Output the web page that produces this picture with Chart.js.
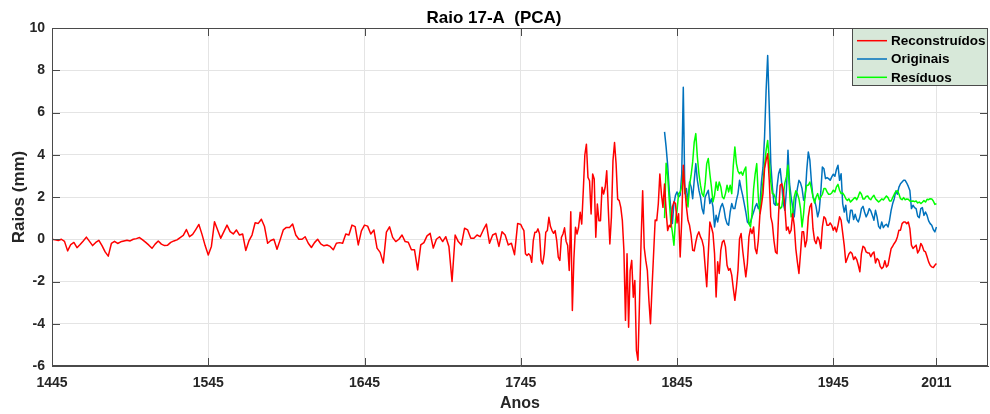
<!DOCTYPE html>
<html><head><meta charset="utf-8">
<script src="https://cdn.jsdelivr.net/npm/chart.js@4.4.0/dist/chart.umd.min.js"></script>
<style>html,body{margin:0;padding:0;background:#fff;}#wrap{width:990px;height:414px;}</style>
</head><body><div id="wrap"><canvas id="c" width="990" height="414"></canvas></div>
<script>
const titleText = 'Raio 17-A  (PCA)';
const xLabel = 'Anos';
const yLabel = 'Raios (mm)';
const seriesNames = ['Reconstruídos', 'Originais', 'Resíduos'];
const seriesColors = ['#ff0000', '#0072bd', '#00ff00'];
const xTicks = [1445, 1545, 1645, 1745, 1845, 1945, 2011];
const yTicks = [-6, -4, -2, 0, 2, 4, 6, 8, 10];

// Reconstruídos, 1445..1745 every 2 years
const redEarlyStart = 1445, redEarlyStep = 2;
const redEarly = [
 0.0,-0.03,-0.06,0.0,-0.1,-0.55,-0.25,-0.15,-0.4,-0.25,
 -0.08,0.1,-0.1,-0.3,-0.15,-0.05,-0.3,-0.6,-0.8,-0.2,
 -0.1,-0.2,-0.12,-0.08,-0.05,-0.08,0.0,0.03,0.08,-0.03,
 -0.15,-0.28,-0.43,-0.23,-0.08,-0.23,-0.3,-0.28,-0.15,-0.08,
 -0.03,0.08,0.18,0.46,0.12,0.23,0.46,0.7,0.23,-0.3,
 -0.75,
 -0.34,0.83,0.44,0.05,0.36,0.67,0.36,0.25,0.44,
 0.2,0.25,-0.53,-0.08,0.2,0.78,0.75,0.95,0.6,-0.19,
 -0.06,0.0,-0.47,-0.03,0.44,0.56,0.56,0.72,0.2,0.0,
 0.0,0.12,-0.19,-0.39,-0.16,0.0,-0.22,-0.31,-0.27,-0.34,
 -0.5,-0.19,-0.16,-0.19,0.25,0.2,0.67,0.6,-0.27,0.4,
 0.67,
 0.62,0.25,0.44,-0.42,-0.62,-1.12,0.34,0.59,0.09,
 -0.11,0.0,0.2,-0.11,-0.14,-0.5,-0.5,-1.45,-0.27,-0.16,
 0.16,0.28,-0.42,0.0,0.12,-0.11,0.12,-0.34,-2.0,0.2,
 -0.11,-0.27,0.52,0.44,0.05,0.05,0.2,0.12,0.44,0.72,
 -0.19,0.2,0.28,-0.34,0.36,0.2,-0.27,-0.19,-0.73,0.75,
 0.7
];
// Reconstruídos, 1746..2011 yearly
const redLateStart = 1746;
const redLate = [
 0.54,0.41,-0.69,-0.77,-0.69,-0.77,-1.09,-0.06,0.33,0.33,
 0.49,0.25,-1.0,-1.17,-0.69,0.33,0.41,1.04,0.6,0.41,
 0.28,0.41,-0.06,-0.85,-1.0,0.09,0.25,0.54,-0.09,-0.3,
 -1.48,1.3,-3.37,-0.9,0.57,0.25,0.57,1.28,0.72,2.3,
 4.0,4.5,2.93,2.77,1.2,3.09,2.85,0.1,1.67,0.88,
 0.88,2.46,2.14,2.46,3.24,1.43,-0.22,1.04,3.72,4.58,
 3.56,1.9,1.83,1.51,0.88,-0.54,-3.84,-0.69,-4.16,-1.48,
 -1.0,-2.74,-1.95,-5.26,-5.73,-2.9,-0.06,2.3,-0.4,-1.0,
 -1.48,-2.9,-4.0,-2.27,-0.69,0.91,0.88,1.67,3.09,2.14,
 1.51,2.61,1.35,0.41,0.66,0.58,1.53,1.77,1.69,0.77,
 1.21,-0.84,0.9,3.5,2.4,1.53,0.9,0.66,0.19,-0.52,
 -0.55,-0.13,0.19,0.35,0.11,-0.05,-0.36,-1.31,-2.25,-0.68,
 0.82,0.58,0.27,-0.68,-2.73,-1.07,-1.62,-0.52,-0.13,-0.05,
 -0.36,-1.23,-1.47,-1.39,-1.7,-2.33,-2.89,-2.26,-1.47,0.03,
 0.27,-0.52,-1.15,-1.78,-1.15,0.11,0.5,0.27,0.58,-0.44,
 -0.68,-0.05,1.14,1.61,2.16,3.34,3.74,4.05,2.79,1.06,
 0.74,-0.05,-0.6,-0.68,1.21,2.56,2.63,2.32,1.53,0.43,
 0.58,0.27,0.43,1.21,0.66,-0.44,-1.07,-1.62,-0.68,0.35,
 0.35,-0.36,-0.05,1.06,1.53,1.69,0.5,-0.05,-0.21,0.11,
 -0.05,-0.44,0.58,1.06,0.98,0.66,0.66,0.77,0.66,0.43,
 0.58,0.35,0.66,1.06,0.9,0.3,-0.3,-1.1,-0.9,-0.7,
 -0.6,-0.68,-0.96,-0.83,-0.96,-1.23,-1.54,-0.68,-0.33,-0.39,
 -0.6,-0.65,-0.65,-0.83,-0.68,-0.6,-1.12,-0.91,-0.99,-1.28,
 -1.39,-1.31,-1.02,-1.31,-1.23,-0.83,-0.44,-0.33,-0.2,-0.09,
 0.11,0.43,0.43,0.74,0.82,0.82,0.74,0.82,0.5,-0.28,
 -0.44,-0.36,-0.28,-0.65,-0.52,-0.2,-0.33,-0.55,-0.6,-0.83,
 -1.07,-1.23,-1.31,-1.34,-1.23,-1.15
];
// Originais and Resíduos, 1837..2011 yearly
const obsStart = 1837;
const originais = [
 5.08,4.37,3.5,2.32,1.45,0.74,1.69,2.08,2.24,2.0,
 2.08,3.1,7.2,2.16,2.4,1.77,2.71,2.48,1.92,2.79,
 3.58,2.79,2.32,2.0,1.45,1.21,2.0,2.16,2.32,1.69,
 1.92,1.53,0.58,1.14,0.82,1.21,1.53,1.69,1.45,0.98,
 0.74,0.66,1.29,1.69,1.45,1.45,1.85,2.16,2.79,2.4,
 2.08,1.69,1.29,0.82,0.74,0.82,1.06,1.29,1.53,1.69,
 1.45,1.61,2.71,3.4,4.84,7.05,8.7,6.26,3.58,2.48,
 1.69,1.61,2.48,3.1,3.34,2.63,1.69,1.37,2.32,4.21,
 2.63,2.0,1.53,1.06,1.92,2.4,2.79,2.67,2.4,1.85,
 2.0,3.26,4.13,3.74,2.71,2.0,1.85,1.53,1.06,1.37,
 2.24,3.42,3.34,2.87,2.92,2.87,2.79,2.95,3.08,2.98,
 3.3,3.5,2.79,3.1,1.69,1.29,1.61,0.9,0.77,1.37,
 1.37,0.93,1.18,0.93,0.82,1.06,1.45,1.56,1.29,1.06,
 1.21,1.45,1.34,1.13,0.9,1.37,1.06,0.61,0.5,0.82,
 0.55,0.66,0.71,0.58,0.9,1.37,1.69,1.92,2.28,2.13,
 2.47,2.63,2.71,2.79,2.79,2.66,2.5,2.31,1.45,1.61,
 1.5,1.45,1.09,1.02,1.45,1.5,1.13,1.29,1.13,0.87,
 0.74,0.66,0.46,0.35,0.58
];
const residuos = [
 1.0,3.6,3.0,1.85,0.82,0.35,-0.28,0.9,1.37,2.16,
 2.24,2.48,3.26,2.24,2.0,1.53,2.56,3.03,3.66,4.6,
 5.0,3.9,3.1,2.56,2.16,2.03,2.63,3.58,3.82,3.1,
 2.48,1.77,2.08,2.71,2.32,2.71,2.48,2.0,1.92,2.16,
 2.56,2.24,2.56,2.16,3.5,4.37,3.58,3.23,3.1,3.19,
 3.03,3.26,3.42,1.85,0.74,0.58,1.21,2.4,3.1,3.58,
 2.0,1.21,2.0,2.71,3.5,4.21,4.68,3.74,2.71,2.16,
 2.13,1.92,1.61,1.69,1.45,1.53,2.08,2.67,2.95,3.5,
 2.32,1.06,1.21,2.0,2.29,2.16,1.92,1.45,0.58,1.21,
 2.16,2.56,2.56,2.71,2.4,2.0,1.72,2.0,2.16,1.88,
 2.0,2.13,2.4,2.4,2.24,2.13,2.13,2.19,2.32,2.24,
 2.48,2.6,2.32,2.16,2.19,2.08,1.92,1.84,1.91,1.76,
 1.84,1.92,1.98,1.87,2.03,2.24,2.13,1.91,1.91,2.03,
 2.05,1.92,1.87,2.0,2.08,1.92,1.84,1.76,1.83,1.91,
 1.86,1.95,2.05,1.97,1.81,1.81,1.97,2.13,2.25,2.3,
 2.14,1.92,1.87,1.97,1.87,1.91,1.89,1.81,1.8,1.81,
 1.78,1.81,1.72,1.76,1.69,1.75,1.83,1.76,1.89,1.87,
 1.92,1.91,1.81,1.65,1.69
];

// build points
const redPts = redEarly.map((v, i) => ({x: redEarlyStart + i * redEarlyStep, y: v}))
  .concat(redLate.map((v, i) => ({x: redLateStart + i, y: v})));
const bluePts = originais.map((v, i) => ({x: obsStart + i, y: v}));
const greenPts = residuos.map((v, i) => ({x: obsStart + i, y: v}));

const FAM = '"Liberation Sans", Arial, Helvetica, sans-serif';
const AXC = '#262626';

const framePlugin = {
  id: 'frame',
  afterDraw(chart) {
    const {ctx, chartArea: a, scales: {x, y}} = chart;
    ctx.save();
    ctx.strokeStyle = '#4a4a4a';
    ctx.lineWidth = 1;
    ctx.strokeRect(Math.round(a.left) + 0.5, Math.round(a.top) + 0.5,
                   Math.round(a.right - a.left) - 1, Math.round(a.bottom - a.top) - 1);
    const L = 8;
    ctx.beginPath();
    x.ticks.forEach(t => {
      const px = Math.round(x.getPixelForValue(t.value)) + 0.5;
      ctx.moveTo(px, a.bottom); ctx.lineTo(px, a.bottom - L);
      ctx.moveTo(px, a.top); ctx.lineTo(px, a.top + L);
    });
    y.ticks.forEach(t => {
      const py = Math.round(y.getPixelForValue(t.value)) + 0.5;
      ctx.moveTo(a.left, py); ctx.lineTo(a.left + L, py);
      ctx.moveTo(a.right, py); ctx.lineTo(a.right - L, py);
    });
    ctx.stroke();

    // legend box
    const lw = 136, lh = 58;
    const lx = Math.round(a.right) - lw, ly = Math.round(a.top);
    ctx.fillStyle = '#d7e8d9';
    ctx.fillRect(lx, ly, lw, lh);
    ctx.strokeStyle = '#4a4a4a';
    ctx.strokeRect(lx + 0.5, ly + 0.5, lw - 1, lh - 1);
    ctx.font = 'bold 13.5px ' + FAM;
    ctx.textBaseline = 'middle';
    ctx.textAlign = 'left';
    seriesNames.forEach((name, i) => {
      const cy = ly + 12.7 + i * 18.3;
      ctx.strokeStyle = seriesColors[i];
      ctx.lineWidth = 1.5;
      ctx.beginPath();
      ctx.moveTo(lx + 5, cy); ctx.lineTo(lx + 35, cy);
      ctx.stroke();
      ctx.fillStyle = '#000';
      ctx.fillText(name, lx + 39, cy + 0.5);
    });
    ctx.restore();
  }
};

const lineDs = (label, data, color, order) => ({
  label, data, borderColor: color, backgroundColor: color, borderWidth: 1.5,
  pointRadius: 0, fill: false, tension: 0, order, borderJoinStyle: 'round'
});

new Chart(document.getElementById('c'), {
  type: 'line',
  data: {
    datasets: [
      lineDs(seriesNames[0], redPts, seriesColors[0], 0),
      lineDs(seriesNames[1], bluePts, seriesColors[1], 2),
      lineDs(seriesNames[2], greenPts, seriesColors[2], 1)
    ]
  },
  options: {
    responsive: false, animation: false, devicePixelRatio: 1,
    events: [],
    layout: {padding: {left: 0, right: 2, top: 0, bottom: 0}},
    plugins: {
      legend: {display: false},
      tooltip: {enabled: false},
      title: {display: true, text: titleText, color: '#000',
              font: {family: FAM, size: 17, weight: 'bold'}, padding: {top: 7.8, bottom: -0.2}}
    },
    scales: {
      x: {
        type: 'linear', min: 1445, max: 2044,
        afterBuildTicks: s => { s.ticks = xTicks.map(v => ({value: v})); },
        afterFit: s => { s.height = 48; },
        grid: {color: '#e4e4e4', drawTicks: false},
        border: {color: '#4a4a4a'},
        ticks: {color: AXC, font: {family: FAM, size: 14, weight: 'bold'}, padding: 9,
                maxRotation: 0, autoSkip: false, callback: v => String(v)},
        title: {display: true, text: xLabel, color: AXC,
                font: {family: FAM, size: 16, weight: 'bold'}, padding: {top: 0, bottom: 1}}
      },
      y: {
        min: -6, max: 10,
        afterBuildTicks: s => { s.ticks = yTicks.map(v => ({value: v})); },
        afterFit: s => { s.width = 52; },
        grid: {color: '#e4e4e4', drawTicks: false},
        border: {color: '#4a4a4a'},
        ticks: {color: AXC, font: {family: FAM, size: 14, weight: 'bold'}, padding: 7,
                callback: v => String(v)},
        title: {display: true, text: yLabel, color: AXC,
                font: {family: FAM, size: 17, weight: 'bold'}, padding: {top: 9, bottom: 0}}
      }
    }
  },
  plugins: [framePlugin]
});
</script>
</body></html>
